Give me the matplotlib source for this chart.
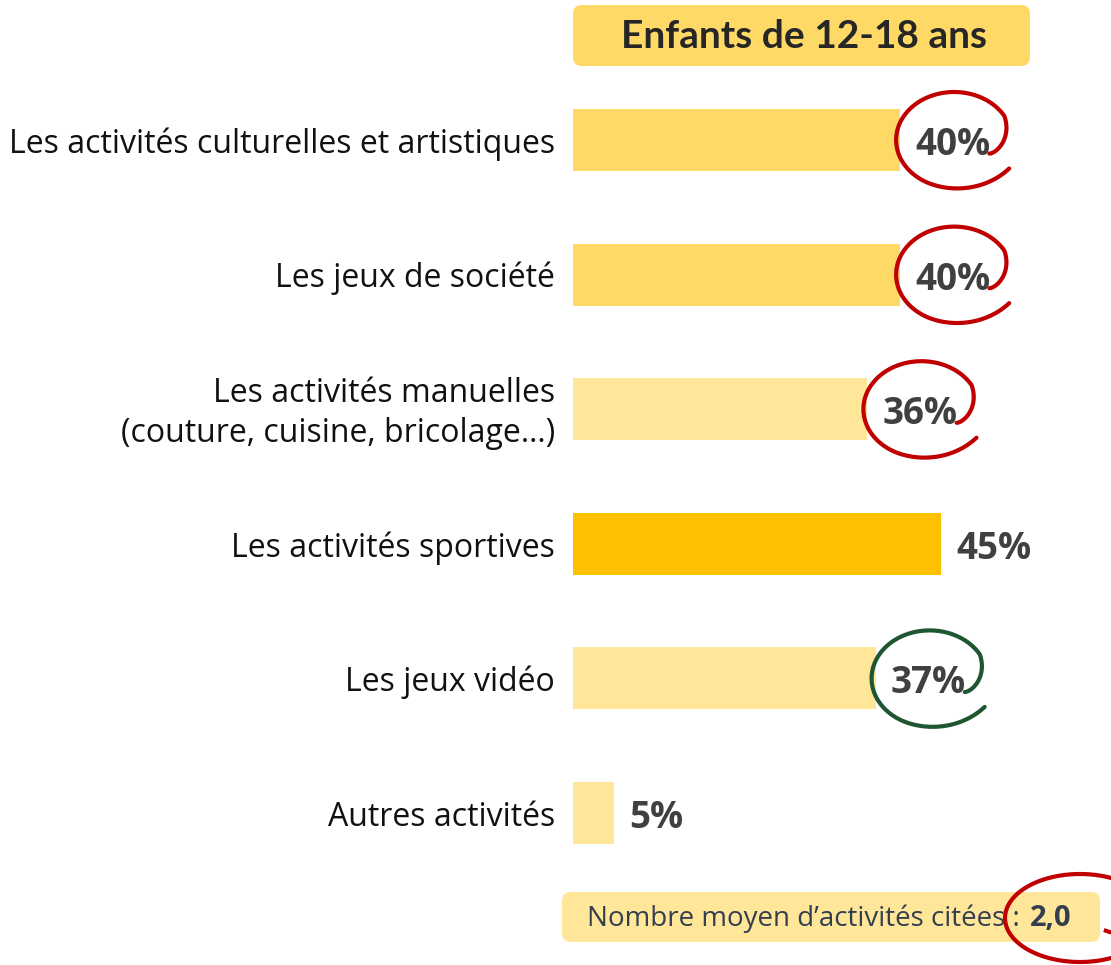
import matplotlib.pyplot as plt
import numpy as np
from matplotlib.patches import FancyBboxPatch

categories = ['Les activités culturelles et artistiques',
              'Les jeux de société',
              'Les activités manuelles\n(couture, cuisine, bricolage…)',
              'Les activités sportives',
              'Les jeux vidéo',
              'Autres activités']
values = [40, 40, 36, 45, 37, 5]
bar_colors = ['#FFD966', '#FFD966', '#FFE699', '#FFC000', '#FFE699', '#FFE699']
# circled values: index -> colour
circled = {0: '#C00000', 1: '#C00000', 2: '#C00000', 4: '#1E5631'}
title = 'Enfants de 12-18 ans'
avg_label = 'Nombre moyen d’activités citées :'
avg_value = '2,0'

W, H = 1111, 965
fig = plt.figure(figsize=(W / 100, H / 100), dpi=100)
ax = fig.add_axes([573 / W, 0, (W - 573) / W, 1])

px_x = 8.178   # pixels per percent
px_y = 134.6   # pixels per category
ax.set_xlim(0, (W - 573) / px_x)
ax.set_ylim((H - 140) / px_y, -140 / px_y)
ax.axis('off')

y = np.arange(len(categories))
ax.barh(y, values, height=62 / px_y, color=bar_colors)

label_font = 'Open Sans'
for i, (cat, v) in enumerate(zip(categories, values)):
    ax.text(-18 / px_x, i + 4 / px_y, cat, ha='right', va='center', fontsize=23,
            family=label_font, color='#111111', linespacing=1.27, clip_on=False)
    ax.text(v + 15 / px_x, i + 5 / px_y, f'{v}%', ha='left', va='center',
            fontsize=26.5, fontweight='bold', family=label_font, color='#404040')


def scribble(cx, cy, a, b, color):
    # hand-drawn open ellipse, centred at (cx, cy) data, a/b in pixels
    th = np.linspace(np.radians(-25), np.radians(328), 300)
    r = 0.67 + 0.33 * np.clip((th - th[0]) / np.radians(55), 0, 1) ** 0.7
    r = r + 0.12 * np.clip((th - np.radians(250)) / np.radians(78), 0, 1) ** 2
    xs = cx + a * r * np.cos(th) / px_x
    ys = cy - b * r * np.sin(th) / px_y
    ax.plot(xs, ys, color=color, lw=3.0, solid_capstyle='round', clip_on=False)


for i, col in circled.items():
    scribble(values[i] + 54 / px_x, i, 58, 48, col)

# title box
fig.patches.append(FancyBboxPatch((573 / W, 1 - 66 / H), (1030 - 573) / W, 61 / H,
                                  boxstyle='round,pad=0,rounding_size=0.008',
                                  mutation_aspect=W / H, transform=fig.transFigure,
                                  facecolor='#FFD966', edgecolor='none'))
fig.text((573 + 1030) / 2 / W + 0.002, 1 - 37 / H, title, ha='center', va='center',
         fontsize=28, fontweight='bold', family='Lato', color='#262626')

# average box
fig.patches.append(FancyBboxPatch((562 / W, 1 - 942 / H), (1100 - 562) / W, 50 / H,
                                  boxstyle='round,pad=0,rounding_size=0.008',
                                  mutation_aspect=W / H, transform=fig.transFigure,
                                  facecolor='#FFE699', edgecolor='none'))
t = fig.text(587 / W, 1 - 919 / H, avg_label, ha='left', va='center',
             fontsize=20, family=label_font, color='#333F50')
fig.canvas.draw()
bb = t.get_window_extent()
fig.text((bb.x1 + 10) / W, 1 - 919 / H, avg_value, ha='left', va='center',
         fontsize=21, fontweight='bold', family=label_font, color='#333F50')

# circle around the average
th = np.linspace(np.radians(-40), np.radians(330), 300)
r = 0.45 + 0.55 * np.clip((th - th[0]) / np.radians(45), 0, 1) ** 0.6
cx, cy, a, b = 1080, 918, 75, 44
fig.add_artist(plt.Line2D((cx + a * r * np.cos(th)) / W,
                          1 - (cy - b * r * np.sin(th)) / H,
                          transform=fig.transFigure, color='#C00000', lw=3.0))

fig.savefig('out.png', dpi=100)
